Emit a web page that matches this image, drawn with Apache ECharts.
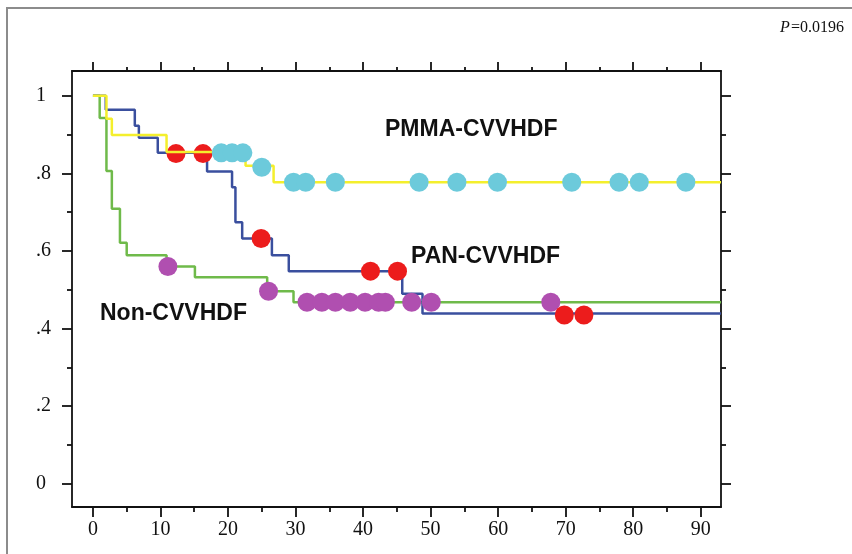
<!DOCTYPE html>
<html>
<head>
<meta charset="utf-8">
<script src="https://cdn.jsdelivr.net/npm/echarts@6/dist/echarts.min.js"></script>
<style>
html,body{margin:0;padding:0;background:#fff;}
#c{width:852px;height:554px;}
</style>
</head>
<body>
<div id="c"></div>
<script>
// Kaplan-Meier step curves (time, survival at/after that time)
const pmmaTimes = [0, 2.0, 2.8, 10.9, 22.6, 26.75, 93];
const pmmaSurv  = [1, 0.941, 0.899, 0.855, 0.82, 0.777, 0.777];
const panTimes  = [0, 1.9, 6.2, 6.8, 9.6, 16.9, 20.6, 21.1, 22.1, 26.5, 29.0, 45.8, 48.8, 93];
const panSurv   = [1, 0.964, 0.923, 0.892, 0.853, 0.805, 0.764, 0.674, 0.632, 0.589, 0.548, 0.490, 0.439, 0.439];
const nonTimes  = [0, 1.0, 2.0, 2.8, 4.0, 5.0, 10.9, 15.1, 25.8, 29.7, 93];
const nonSurv   = [1, 0.943, 0.806, 0.709, 0.621, 0.589, 0.560, 0.532, 0.496, 0.468, 0.468];

// Censored observations
const pmmaCensX = [19.0, 20.6, 22.2, 25.0, 29.7, 31.5, 35.9, 48.3, 53.9, 59.9, 70.9, 77.9, 80.9, 87.8];
const pmmaCensY = [0.853, 0.853, 0.853, 0.816, 0.777, 0.777, 0.777, 0.777, 0.777, 0.777, 0.777, 0.777, 0.777, 0.777];
const panCensX  = [12.3, 16.3, 24.9, 41.1, 45.1, 69.8, 72.7];
const panCensY  = [0.851, 0.851, 0.632, 0.548, 0.548, 0.435, 0.435];
const nonCensX  = [11.1, 26.0, 31.7, 33.9, 35.9, 38.1, 40.3, 42.3, 43.3, 47.2, 50.1, 67.8];
const nonCensY  = [0.560, 0.496, 0.468, 0.468, 0.468, 0.468, 0.468, 0.468, 0.468, 0.468, 0.468, 0.468];

// Axis ticks
const xMajor = [0, 10, 20, 30, 40, 50, 60, 70, 80, 90];
const xMinor = [5, 15, 25, 35, 45, 55, 65, 75, 85];
const yMajor = [0, 0.2, 0.4, 0.6, 0.8, 1];
const yMinor = [0.1, 0.3, 0.5, 0.7, 0.9];
const yLabelText = {0: '0', 0.2: '.2', 0.4: '.4', 0.6: '.6', 0.8: '.8', 1: '1'};

const zip = (a, b) => a.map((v, i) => [v, b[i]]);

const XMIN = -3.1, XMAX = 93, YMIN = -0.06, YMAX = 1.064;
const black = '#111';
const serif = '"Liberation Serif","Times New Roman",serif';

function xAx(pos, ticks, len, labels, line) {
  return {
    type: 'value', position: pos, min: XMIN, max: XMAX,
    splitLine: {show: false},
    axisLine: {show: line, onZero: false, lineStyle: {color: black, width: 1.8}},
    axisTick: {show: true, inside: false, length: len, customValues: ticks, lineStyle: {color: black, width: 1.8}},
    axisLabel: labels ? {show: true, customValues: ticks, margin: 13, color: black,
      fontFamily: serif, fontSize: 20} : {show: false}
  };
}
function yAx(pos, ticks, len, labels, line) {
  return {
    type: 'value', position: pos, min: YMIN, max: YMAX,
    splitLine: {show: false},
    axisLine: {show: line, onZero: false, lineStyle: {color: black, width: 1.8}},
    axisTick: {show: true, inside: false, length: len, customValues: ticks, lineStyle: {color: black, width: 1.8}},
    axisLabel: labels ? {show: true, customValues: ticks, margin: 36, align: 'left', color: black,
      fontFamily: serif, fontSize: 20,
      formatter: v => yLabelText[Math.round(v * 10) / 10] ?? ''} : {show: false}
  };
}

const chart = echarts.init(document.getElementById('c'), null, {renderer: 'canvas'});
const lineSeries = (name, t, s, color, z) => ({
  name, type: 'line', step: 'end', data: zip(t, s), symbol: 'none', z,
  lineStyle: {color, width: 2.5}, silent: true, animation: false
});
const dotSeries = (name, x, y, color, z) => ({
  name, type: 'scatter', data: zip(x, y), symbol: 'circle', symbolSize: 19, z,
  itemStyle: {color, opacity: 1}, silent: true, animation: false
});

chart.setOption({
  animation: false,
  backgroundColor: '#fff',
  grid: {left: 72, right: 131, top: 71, bottom: 47, show: false},
  xAxis: [
    xAx('bottom', xMajor, 10, true, true),
    xAx('bottom', xMinor, 5, false, false),
    xAx('top', xMajor, 9, false, true),
    xAx('top', xMinor, 4, false, false)
  ],
  yAxis: [
    yAx('left', yMajor, 10, true, true),
    yAx('left', yMinor, 5, false, false),
    yAx('right', yMajor, 10, false, true),
    yAx('right', yMinor, 5, false, false)
  ],
  series: [
    lineSeries('Non-CVVHDF', nonTimes, nonSurv, '#6fba4a', 2),
    lineSeries('PAN-CVVHDF', panTimes, panSurv, '#3a4f9e', 3),
    dotSeries('Non censored', nonCensX, nonCensY, '#b04fb0', 4),
    dotSeries('PAN censored', panCensX, panCensY, '#ec1c1c', 5),
    lineSeries('PMMA-CVVHDF', pmmaTimes, pmmaSurv, '#f4ef2c', 6),
    dotSeries('PMMA censored', pmmaCensX, pmmaCensY, '#6ccadb', 7)
  ],
  graphic: [
    {type: 'rect', shape: {x: 7, y: 8, width: 900, height: 600}, style: {fill: 'none', stroke: '#8c8c8c', lineWidth: 2}, z: 0},
    {type: 'text', left: 780, top: 20, style: {text: 'P', font: 'italic 16px ' + serif, fill: black}},
    {type: 'text', left: 791, top: 20, style: {text: '=0.0196', font: '16px ' + serif, fill: black}},
    {type: 'text', left: 385, top: 118, style: {text: 'PMMA-CVVHDF', font: 'bold 23px "Liberation Sans", Arial, sans-serif', fill: '#111'}, z: 100},
    {type: 'text', left: 411, top: 245, style: {text: 'PAN-CVVHDF', font: 'bold 23px "Liberation Sans", Arial, sans-serif', fill: '#111'}, z: 100},
    {type: 'text', left: 100, top: 302, style: {text: 'Non-CVVHDF', font: 'bold 23px "Liberation Sans", Arial, sans-serif', fill: '#111'}, z: 100}
  ]
});
</script>
</body>
</html>
